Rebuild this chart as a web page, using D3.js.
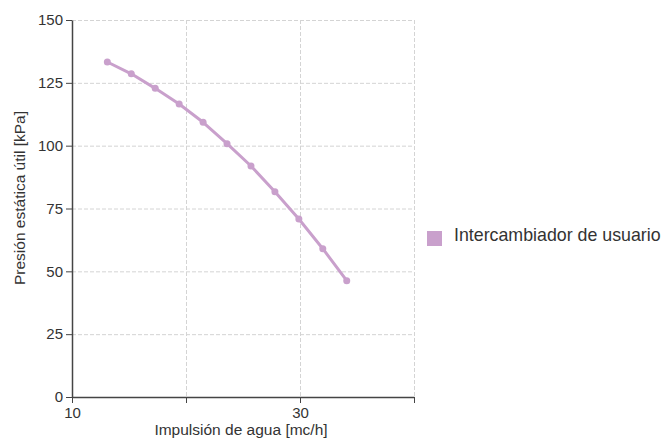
<!DOCTYPE html>
<html><head><meta charset="utf-8">
<script src="https://cdn.jsdelivr.net/npm/d3@7"></script>
<style>body{margin:0;background:#fff;} text{font-family:"Liberation Sans",Arial,sans-serif;}</style>
</head><body>
<svg id="c" width="661" height="443"></svg>
<script>
const seriesName = "Intercambiador de usuario";
const flow = [13.1, 15.2, 17.3, 19.4, 21.5, 23.6, 25.7, 27.8, 29.9, 32.0, 34.1];
const pressure = [133.3, 128.6, 122.8, 116.6, 109.3, 100.8, 91.9, 81.7, 70.8, 59.0, 46.3];
const xTicks = [10, 20, 30, 40];
const xTickLabels = ["10", "", "30", ""];
const yTicks = [0, 25, 50, 75, 100, 125, 150];
const xTitle = "Impulsión de agua [mc/h]";
const yTitle = "Presión estática útil [kPa]";

const color = "#c9a0cc";
const svg = d3.select("#c");
const x = d3.scaleLinear().domain([10, 40]).range([72, 414]);
const y = d3.scaleLinear().domain([0, 150]).range([397, 20]);

// grid
const g = svg.append("g");
g.selectAll(".gx").data(xTicks.slice(1)).enter().append("line")
  .attr("x1", d => x(d)+0.5).attr("x2", d => x(d)+0.5).attr("y1", y(150)).attr("y2", y(0))
  .attr("stroke", "#d4d4d4").attr("stroke-dasharray", "4,2");
g.selectAll(".gy").data(yTicks.slice(1)).enter().append("line")
  .attr("x1", x(10)).attr("x2", x(40)).attr("y1", d => y(d)+0.5).attr("y2", d => y(d)+0.5)
  .attr("stroke", "#d4d4d4").attr("stroke-dasharray", "4,2");

// axes
const ax = svg.append("g").attr("transform", `translate(0,${y(0)})`)
  .call(d3.axisBottom(x).tickValues(xTicks).tickFormat((d,i) => xTickLabels[i]).tickSize(6).tickSizeOuter(0).tickPadding(4));
const ay = svg.append("g").attr("transform", `translate(${x(10)},0)`)
  .call(d3.axisLeft(y).tickValues(yTicks).tickSize(6).tickSizeOuter(0).tickPadding(3));
[ax, ay].forEach(a => {
  a.select(".domain").attr("stroke", "#444").attr("stroke-width", 1.5);
  a.selectAll(".tick line").attr("stroke", "#444");
  a.selectAll("text").attr("fill", "#333").attr("font-size", 15)
   .style("font-family", '"Liberation Sans", Arial, sans-serif');
});
ax.selectAll("text").attr("dy", "0.71em");

// line
const line = d3.line().x((d,i) => x(flow[i])).y(d => y(d));
svg.append("path").datum(pressure).attr("d", line).attr("fill", "none")
  .attr("stroke", color).attr("stroke-width", 3).attr("stroke-linejoin", "round");
svg.selectAll(".pt").data(pressure).enter().append("circle")
  .attr("cx", (d,i) => x(flow[i])).attr("cy", d => y(d)).attr("r", 3.5).attr("fill", color);

// titles
svg.append("text").attr("x", 241).attr("y", 435).attr("text-anchor", "middle")
  .attr("font-size", 15.5).attr("fill", "#333").text(xTitle);
svg.append("text").attr("transform", "translate(25,198) rotate(-90)").attr("text-anchor", "middle")
  .attr("font-size", 15.5).attr("fill", "#333").text(yTitle);

// legend
svg.append("rect").attr("x", 427).attr("y", 231).attr("width", 15).attr("height", 15).attr("fill", color);
svg.append("text").attr("x", 454).attr("y", 241).attr("font-size", 17.8).attr("fill", "#333").text(seriesName);
</script>
</body></html>
